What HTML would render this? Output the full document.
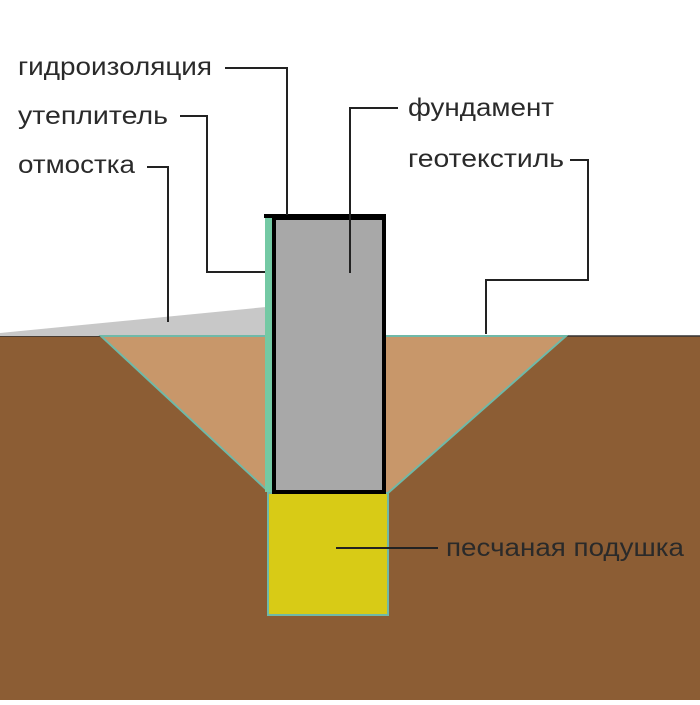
<!DOCTYPE html>
<html><head><meta charset="utf-8"><style>
html,body{margin:0;padding:0;background:#fff}
svg text{font-family:"Liberation Sans","DejaVu Sans",sans-serif;font-size:25px;fill:#2a2a2a}
</style></head><body>
<svg width="700" height="700" viewBox="0 0 700 700" xmlns="http://www.w3.org/2000/svg">
<rect x="0" y="0" width="700" height="700" fill="#fff"/>
<rect x="0" y="336" width="700" height="364" fill="#8c5d34"/>
<line x1="0" y1="336" x2="700" y2="336" stroke="#333" stroke-width="1.5"/>
<polygon points="0,333 266,307 266,336 0,336" fill="#c8c8c8"/>
<polygon points="101,336 566,336 388,493 270,493" fill="#c8976a" stroke="#6fb9a8" stroke-width="2"/>
<rect x="268" y="493" width="120" height="122" fill="#d8cb16" stroke="#6fb9a8" stroke-width="2"/>
<rect x="265" y="218" width="9" height="274" fill="#74c9a4"/>
<rect x="274" y="218" width="110" height="274" fill="#a8a8a8" stroke="#000" stroke-width="4"/>
<line x1="264" y1="216" x2="386" y2="216" stroke="#000" stroke-width="4"/>
<g stroke="#222" stroke-width="2" fill="none">
<polyline points="225,68 287,68 287,215"/>
<polyline points="180,116 207,116 207,272 265,272"/>
<polyline points="147,167 168,167 168,322"/>
<polyline points="398,108 350,108 350,273"/>
<polyline points="570,160 588,160 588,280 486,280 486,334"/>
<line x1="336" y1="548" x2="438" y2="548"/>
</g>
<text x="18" y="75" textLength="194" lengthAdjust="spacingAndGlyphs">гидроизоляция</text>
<text x="18" y="124" textLength="150" lengthAdjust="spacingAndGlyphs">утеплитель</text>
<text x="18" y="173" textLength="117" lengthAdjust="spacingAndGlyphs">отмостка</text>
<text x="408" y="116" textLength="146" lengthAdjust="spacingAndGlyphs">фундамент</text>
<text x="408" y="167" textLength="156" lengthAdjust="spacingAndGlyphs">геотекстиль</text>
<text x="446" y="556" textLength="238" lengthAdjust="spacingAndGlyphs">песчаная подушка</text>
</svg>
</body></html>
